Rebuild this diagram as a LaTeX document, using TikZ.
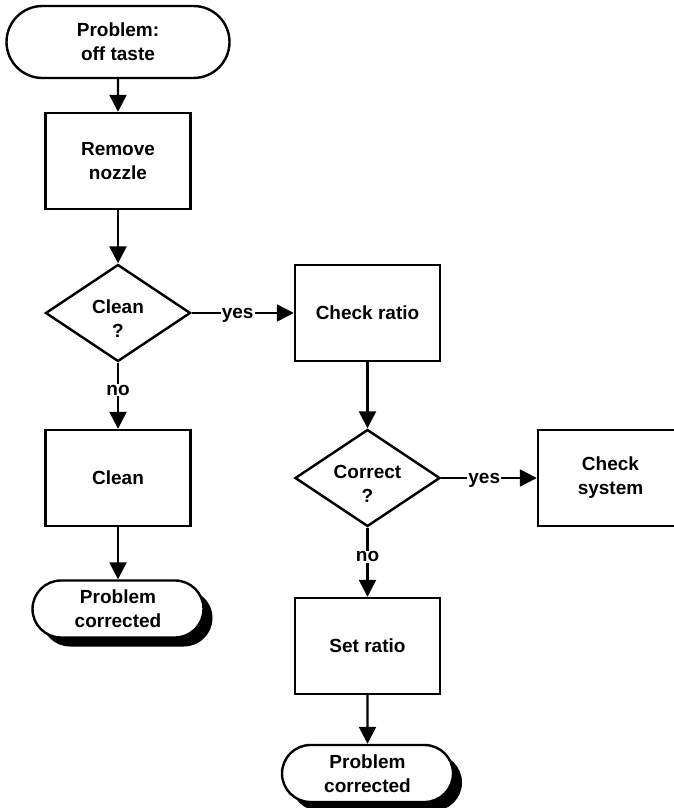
\documentclass[tikz,border=0pt]{standalone}
\usepackage{fontspec}
\setmainfont{Liberation Sans}
\usetikzlibrary{shapes.geometric,shapes.misc,shadows,arrows.meta}
\newcommand{\lowtext}{\rule{0pt}{24pt}}
\tikzset{
  chart/.style={draw=black,line width=2.4pt,fill=white,align=center,inner sep=0pt,
    font=\fontsize{19}{24}\selectfont\bfseries},
  term/.style={chart,rounded rectangle,minimum width=171pt,minimum height=57pt},
  termshadow/.style={term,general shadow={fill=black,shadow xshift=9pt,shadow yshift=-9pt}},
  proc/.style={chart,rectangle,minimum width=145pt,minimum height=96pt},
  decide/.style={chart,diamond,aspect=1.5,minimum width=145pt,minimum height=97pt},
  flow/.style={line width=2.4pt,-{Triangle[length=17pt,width=17pt]}},
  answer/.style={fill=white,inner sep=1pt,text height=10pt,text depth=0pt,
    font=\fontsize{19}{24}\selectfont\bfseries},
}

\begin{document}
\begin{tikzpicture}[x=1pt,y=-1pt]
      \useasboundingbox (0,0) rectangle (673,808);
      \node[term,minimum width=223pt,minimum height=72pt] (start) at (118,42) {Problem:\\off taste};
      \node[proc] (nozzle) at (118,161) {Remove\\nozzle};
      \node[decide] (cleanq) at (118,313) {\lowtext Clean\\?};
      \node[proc] (clean) at (118,478) {Clean};
      \node[termshadow] (doneL) at (118,609) {Problem\\corrected};
      \node[proc] (ratio) at (367.5,313) {Check ratio};
      \node[decide] (correctq) at (367.5,478) {\lowtext Correct\\?};
      \node[proc] (system) at (610.5,478) {Check\\system};
      \node[proc] (setratio) at (367.5,646) {Set ratio};
      \node[termshadow] (doneR) at (367.5,773.5) {Problem\\corrected};
      \draw[flow] (start) -- (nozzle);
      \draw[flow] (nozzle) -- (cleanq);
      \draw[flow] (cleanq) -- node[answer,pos=0.45] {yes} (ratio);
      \draw[flow] (cleanq) -- node[answer,pos=0.42] {no} (clean);
      \draw[flow] (clean) -- (doneL);
      \draw[flow] (ratio) -- (correctq);
      \draw[flow] (correctq) -- node[answer,pos=0.45] {yes} (system);
      \draw[flow] (correctq) -- node[answer,pos=0.42] {no} (setratio);
      \draw[flow] (setratio) -- (doneR);
    \end{tikzpicture}
\end{document}
